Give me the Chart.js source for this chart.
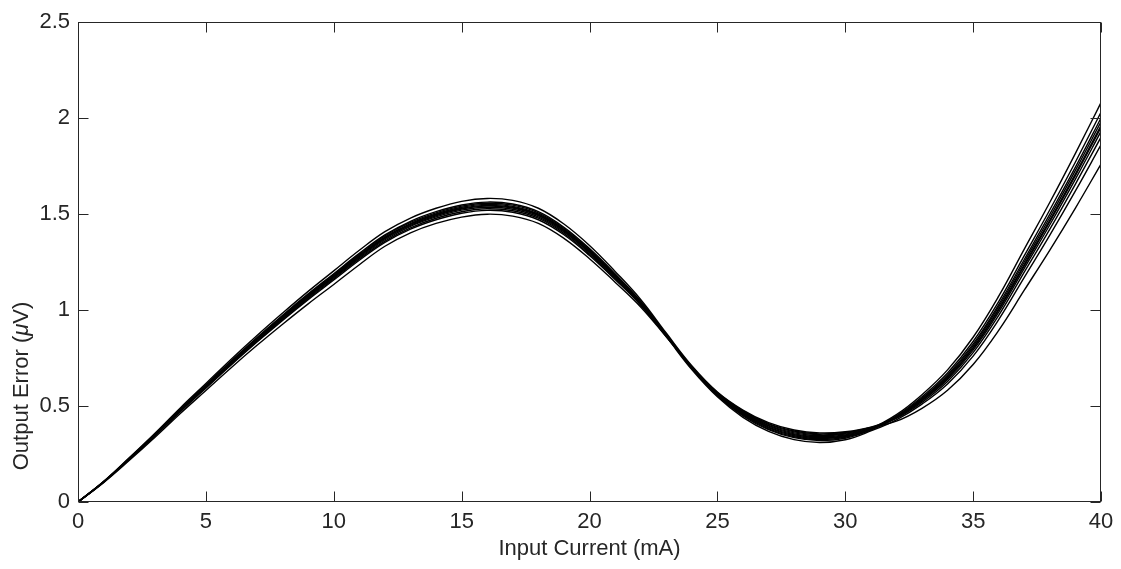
<!DOCTYPE html>
<html>
<head>
<meta charset="utf-8">
<script src="https://cdn.jsdelivr.net/npm/chart.js@4.4.1/dist/chart.umd.min.js"></script>
<style>
html,body{margin:0;padding:0;background:#fff;}
canvas{display:block;}
</style>
</head>
<body>
<canvas id="c" width="1121" height="569"></canvas>
<script>
// ---- data ----
const xTitle = "Input Current (mA)";
const yTitleParts = ["Output Error (", "\u03BC", "V)"];
const xTicks = [0, 5, 10, 15, 20, 25, 30, 35, 40];
const xTickLabels = ["0", "5", "10", "15", "20", "25", "30", "35", "40"];
const yTicks = [0, 0.5, 1, 1.5, 2, 2.5];
const yTickLabels = ["0", "0.5", "1", "1.5", "2", "2.5"];

const inputCurrent = [0,1,2,3,4,5,6,7,8,9,10,11,12,13,14,15,16,17,18,19,20,21,22,23,24,25,26,27,28,29,30,31,32,33,34,35,36,37,38,39,40];

const run1  = [0,0.107,0.230,0.357,0.490,0.617,0.745,0.867,0.984,1.097,1.204,1.311,1.408,1.479,1.530,1.566,1.581,1.571,1.530,1.448,1.336,1.201,1.055,0.880,0.710,0.573,0.479,0.413,0.375,0.360,0.366,0.390,0.440,0.526,0.638,0.791,0.989,1.217,1.444,1.682,1.930];
const run2  = [0,0.106,0.227,0.353,0.484,0.610,0.736,0.857,0.973,1.084,1.189,1.295,1.391,1.462,1.512,1.547,1.562,1.552,1.512,1.431,1.320,1.189,1.046,0.874,0.704,0.565,0.468,0.399,0.360,0.345,0.354,0.384,0.455,0.559,0.688,0.858,1.072,1.317,1.561,1.816,2.080];
const run3  = [0,0.105,0.226,0.351,0.482,0.607,0.733,0.853,0.969,1.079,1.185,1.290,1.386,1.456,1.506,1.541,1.556,1.546,1.506,1.426,1.315,1.184,1.043,0.871,0.700,0.560,0.460,0.390,0.350,0.335,0.345,0.380,0.449,0.548,0.672,0.836,1.044,1.283,1.522,1.771,2.030];
const run4  = [0,0.105,0.225,0.350,0.480,0.605,0.730,0.850,0.965,1.075,1.180,1.285,1.380,1.450,1.500,1.535,1.550,1.540,1.500,1.420,1.310,1.180,1.040,0.870,0.699,0.558,0.456,0.386,0.345,0.330,0.341,0.378,0.445,0.541,0.662,0.822,1.028,1.263,1.499,1.744,2.000];
const run5  = [0,0.105,0.224,0.349,0.479,0.603,0.728,0.847,0.962,1.072,1.176,1.281,1.376,1.446,1.496,1.530,1.545,1.535,1.496,1.416,1.306,1.177,1.038,0.868,0.697,0.555,0.453,0.381,0.340,0.325,0.337,0.376,0.442,0.537,0.655,0.813,1.017,1.250,1.483,1.727,1.980];
const run6  = [0,0.104,0.224,0.348,0.477,0.601,0.726,0.845,0.959,1.069,1.173,1.277,1.372,1.441,1.491,1.526,1.541,1.531,1.491,1.411,1.302,1.174,1.036,0.868,0.701,0.563,0.464,0.395,0.355,0.340,0.349,0.382,0.442,0.532,0.648,0.804,1.006,1.237,1.468,1.709,1.960];
const run7  = [0,0.104,0.223,0.347,0.475,0.599,0.723,0.842,0.955,1.064,1.168,1.272,1.366,1.436,1.485,1.520,1.535,1.525,1.485,1.406,1.297,1.169,1.033,0.865,0.695,0.553,0.449,0.377,0.335,0.320,0.332,0.374,0.439,0.530,0.645,0.800,1.000,1.230,1.460,1.700,1.950];
const run8  = [0,0.103,0.222,0.345,0.473,0.596,0.719,0.837,0.951,1.059,1.162,1.266,1.359,1.428,1.478,1.512,1.527,1.517,1.478,1.399,1.290,1.164,1.029,0.866,0.703,0.568,0.471,0.404,0.365,0.350,0.358,0.386,0.436,0.519,0.628,0.778,0.972,1.197,1.421,1.656,1.900];
const run9  = [0,0.103,0.221,0.343,0.470,0.593,0.715,0.833,0.946,1.054,1.156,1.259,1.352,1.421,1.470,1.504,1.519,1.509,1.470,1.392,1.284,1.159,1.025,0.861,0.690,0.548,0.441,0.368,0.325,0.310,0.324,0.370,0.428,0.510,0.615,0.760,0.950,1.170,1.390,1.620,1.860];
const run10 = [0,0.101,0.216,0.336,0.461,0.581,0.701,0.816,0.926,1.032,1.133,1.236,1.332,1.402,1.451,1.484,1.499,1.489,1.451,1.373,1.267,1.145,1.016,0.861,0.703,0.570,0.475,0.408,0.370,0.355,0.362,0.388,0.421,0.488,0.582,0.716,0.894,1.103,1.312,1.531,1.760];

const runs = [run1, run2, run3, run4, run5, run6, run7, run8, run9, run10];

// ---- chart ----
const INK = '#262626';
const FONT = '"Liberation Sans", Arial, Helvetica, sans-serif';
const FS = 22;
Chart.defaults.font.family = FONT;
Chart.defaults.font.size = FS;
Chart.defaults.color = INK;

const datasets = runs.map((r, k) => ({
  label: 'Run ' + (k + 1),
  data: inputCurrent.map((x, i) => ({ x: x, y: r[i] })),
  borderColor: '#000000',
  borderWidth: 1.4,
  pointRadius: 0,
  fill: false,
  tension: 0.4
}));

const framePlugin = {
  id: 'frame',
  afterDatasetsDraw(chart) {
    const ctx = chart.ctx, a = chart.chartArea, xs = chart.scales.x, ys = chart.scales.y;
    ctx.save();
    ctx.strokeStyle = INK;
    ctx.lineWidth = 1;
    const L = Math.round(a.left) + 0.5, R = Math.round(a.right) - 0.5;
    const T = Math.round(a.top) + 0.5, B = Math.round(a.bottom) - 0.5;
    ctx.strokeRect(L, T, R - L, B - T);
    ctx.beginPath();
    xs.ticks.forEach(t => {
      const p = Math.round(xs.getPixelForValue(t.value)) + 0.5;
      ctx.moveTo(p, B); ctx.lineTo(p, B - 10);
      ctx.moveTo(p, T); ctx.lineTo(p, T + 10);
    });
    ys.ticks.forEach(t => {
      const p = Math.round(ys.getPixelForValue(t.value)) + 0.5;
      ctx.moveTo(L, p); ctx.lineTo(L + 10, p);
      ctx.moveTo(R, p); ctx.lineTo(R - 10, p);
    });
    ctx.stroke();

    // axis titles
    ctx.fillStyle = INK;
    ctx.textBaseline = 'middle';
    ctx.font = FS + 'px ' + FONT;
    ctx.textAlign = 'center';
    ctx.fillText(xTitle, (a.left + a.right) / 2, 549);

    const fonts = [FS + 'px ' + FONT, 'italic ' + FS + 'px ' + FONT, FS + 'px ' + FONT];
    let total = 0;
    const widths = yTitleParts.map((s, i) => { ctx.font = fonts[i]; const w = ctx.measureText(s).width; total += w; return w; });
    ctx.translate(22, 386);
    ctx.rotate(-Math.PI / 2);
    ctx.textAlign = 'left';
    let pos = -total / 2;
    yTitleParts.forEach((s, i) => { ctx.font = fonts[i]; ctx.fillText(s, pos, 0); pos += widths[i]; });
    ctx.restore();
  }
};

new Chart(document.getElementById('c'), {
  type: 'line',
  data: { datasets: datasets },
  plugins: [framePlugin],
  options: {
    responsive: false,
    animation: false,
    devicePixelRatio: 1,
    layout: { padding: { left: 0, right: 20, top: 22, bottom: 0 } },
    plugins: { legend: { display: false }, tooltip: { enabled: false }, title: { display: false } },
    scales: {
      x: {
        type: 'linear', min: 0, max: 40,
        border: { display: false },
        grid: { display: false, drawTicks: false },
        afterBuildTicks: s => { s.ticks = xTicks.map(v => ({ value: v })); },
        ticks: { padding: 7, maxRotation: 0, color: INK, font: { size: FS },
                 callback: (v, i) => xTickLabels[i] },
        afterFit: s => { s.height = 67; }
      },
      y: {
        type: 'linear', min: 0, max: 2.5,
        border: { display: false },
        grid: { display: false, drawTicks: false },
        afterBuildTicks: s => { s.ticks = yTicks.map(v => ({ value: v })); },
        ticks: { padding: 8, color: INK, font: { size: FS },
                 callback: (v, i) => yTickLabels[i] },
        afterFit: s => { s.width = 78; }
      }
    }
  }
});
</script>
</body>
</html>
